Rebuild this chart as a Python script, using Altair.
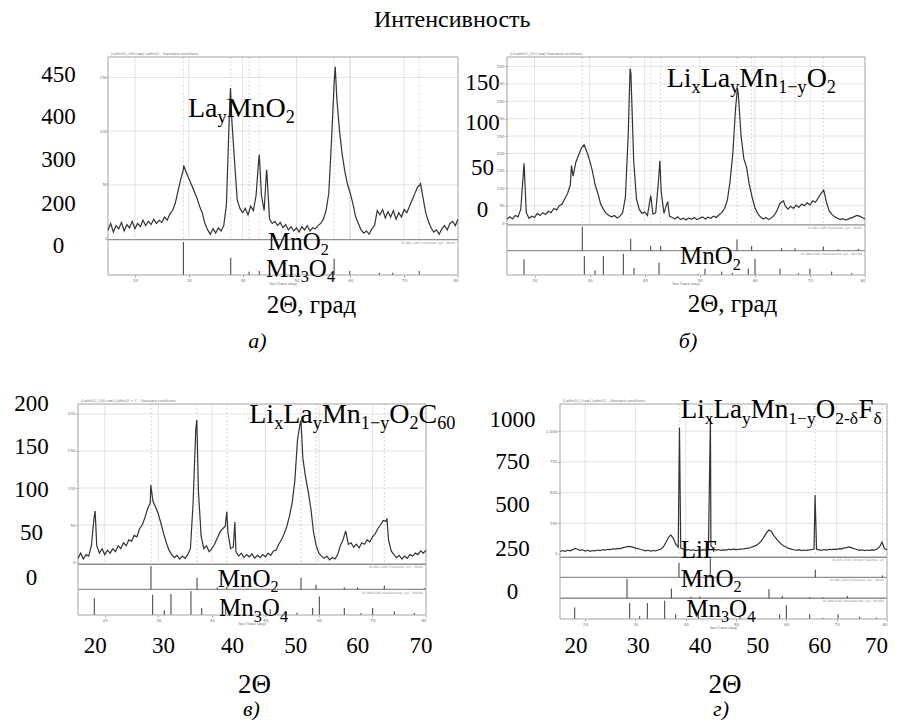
import altair as alt
import pandas as pd

SERIF = "Times New Roman, Liberation Serif, Tinos, DejaVu Serif, serif"
SANS = "DejaVu Sans"

# ---------------- data (intensities, 0.5 deg steps from 15 to 80) -------------
A_INT = [8, 14, 6, 12, 9, 15, 7, 13, 10, 16,
         9, 14, 11, 17, 12, 16, 13, 18, 14, 17,
         15, 20, 17, 23, 26, 33, 44, 55, 64, 62,
         56, 50, 44, 38, 30, 24, 14, 8, 4, 9,
         5, 10, 7, 12, 32, 110, 110, 72, 36, 28,
         24, 28, 22, 30, 26, 40, 74, 40, 26, 62,
         18, 14, 16, 12, 15, 10, 13, 8, 11, 7,
         10, 6, 11, 8, 12, 7, 10, 9, 12, 14,
         18, 26, 42, 90, 145, 130, 100, 78, 62, 50,
         42, 32, 20, 14, 8, 5, 7, 4, 9, 12,
         26, 22, 27, 19, 25, 20, 26, 18, 24, 20,
         27, 24, 30, 36, 42, 48, 50, 38, 24, 16,
         10, 6, 8, 4, 9, 12, 8, 14, 16, 12,
         18]
A_PEAK_T = [29.05, 37.75, 43.1, 44.45, 57.2, 73.0]
A_PEAK_I = [68, 140, 78, 64, 160, 52]

B_INT = [11, 18, 12, 22, 18, 40, 150, 30, 14, 20,
         16, 28, 22, 30, 25, 34, 30, 42, 38, 50,
         55, 70, 85, 110, 135, 175, 195, 215, 225, 205,
         180, 150, 110, 85, 55, 40, 28, 22, 18, 22,
         15, 20, 30, 75, 250, 430, 180, 70, 40, 28,
         32, 22, 70, 26, 30, 120, 90, 28, 55, 20,
         16, 12, 18, 10, 14, 9, 15, 11, 16, 10,
         14, 18, 12, 17, 14, 20, 16, 24, 30, 42,
         65, 120, 200, 330, 370, 250, 185, 160, 110, 75,
         45, 28, 18, 12, 16, 10, 15, 22, 35, 55,
         62, 50, 40, 48, 42, 52, 45, 55, 50, 58,
         52, 64, 60, 72, 85, 95, 60, 35, 25, 18,
         14, 10, 13, 9, 12, 15, 18, 22, 20, 16,
         12]
B_PEAK_T = [18.1, 26.7, 37.35, 41.1, 42.75, 44.2, 56.85, 65.2]
B_PEAK_I = [172, 165, 444, 79, 179, 60, 388, 64]

C_INT = [5, 12, 4, 10, 8, 22, 60, 22, 12, 18,
         10, 16, 12, 18, 14, 22, 18, 26, 22, 30,
         28, 36, 34, 45, 50, 60, 72, 80, 82, 74,
         65, 52, 38, 26, 16, 10, 6, 9, 4, 8,
         5, 10, 18, 80, 180, 95, 35, 18, 22, 14,
         18, 24, 32, 40, 45, 48, 40, 18, 20, 14,
         8, 12, 6, 10, 7, 11, 5, 9, 6, 10,
         7, 12, 9, 15, 16, 24, 30, 38, 48, 62,
         80, 110, 165, 188, 140, 115, 95, 72, 40, 22,
         12, 8, 5, 8, 3, 6, 4, 10, 22, 30,
         42, 24, 26, 20, 24, 19, 26, 24, 30, 27,
         34, 38, 45, 50, 56, 55, 30, 15, 10, 6,
         9, 4, 8, 5, 10, 8, 12, 10, 15, 12,
         16]
C_PEAK_T = [18.2, 28.6, 37.2, 42.8, 44.3, 56.65, 72.7]
C_PEAK_I = [69, 104, 192, 68, 54, 191, 59]

D_INT = [20, 28, 22, 30, 26, 35, 45, 38, 30, 34,
         24, 30, 22, 28, 25, 32, 28, 36, 32, 38,
         35, 42, 40, 46, 44, 52, 55, 62, 60, 56,
         48, 44, 36, 32, 26, 30, 24, 28, 26, 32,
         38, 55, 90, 130, 155, 130, 80, 55, 50, 38,
         32, 36, 30, 34, 28, 32, 30, 35, 32, 38,
         70, 40, 32, 36, 30, 34, 32, 38, 35, 40,
         35, 38, 40, 42, 45, 48, 55, 62, 70, 85,
         105, 135, 170, 195, 185, 150, 125, 100, 80, 65,
         55, 45, 40, 34, 30, 35, 28, 32, 30, 34,
         36, 40, 38, 34, 30, 36, 32, 38, 35, 40,
         38, 44, 42, 50, 52, 58, 50, 42, 36, 30,
         34, 28, 32, 30, 34, 32, 40, 55, 95, 45,
         35]
D_PEAK_T = [38.75, 44.9, 65.7]
D_PEAK_I = [1030, 1110, 480]

# reference stick patterns (position, relative height)
MNO2_A_T = [29.0, 37.8, 41.2, 43.1, 57.0, 59.9, 65.4, 67.9, 72.8]
MNO2_A_H = [1.0, 0.52, 0.1, 0.12, 0.5, 0.12, 0.06, 0.07, 0.12]
MNO2_B_T = [28.67, 37.46, 41.09, 42.9, 56.76, 59.42, 64.87, 67.29, 72.43, 75.15, 78.78]
MNO2_B_H = [1.0, 0.49, 0.2, 0.2, 0.47, 0.2, 0.1, 0.1, 0.17, 0.05, 0.07]
MN3O4_B_T = [18.09, 29.04, 30.98, 32.49, 36.12, 38.06, 42.6, 49.7, 50.95, 53.98, 55.9, 58.8, 60.03, 64.57, 67.9, 70.0, 73.95, 77.58]
MN3O4_B_H = [0.69, 0.83, 0.2, 0.83, 0.94, 0.3, 0.55, 0.05, 0.28, 0.15, 0.1, 0.28, 0.72, 0.28, 0.08, 0.28, 0.15, 0.08]
MNO2_C_T = [28.63, 37.23, 41.0, 42.8, 56.65, 59.45, 64.74, 67.24, 72.21, 79.68]
MNO2_C_H = [1.0, 0.5, 0.08, 0.1, 0.5, 0.2, 0.08, 0.08, 0.17, 0.05]
MN3O4_C_T = [18.05, 28.95, 31.12, 32.37, 36.1, 38.1, 42.6, 50.9, 53.9, 55.9, 58.83, 60.07, 64.74, 67.86, 70.04, 74.08, 77.82]
MN3O4_C_H = [0.7, 0.85, 0.2, 0.88, 1.0, 0.3, 0.5, 0.25, 0.12, 0.1, 0.3, 0.78, 0.3, 0.08, 0.3, 0.15, 0.08]
LIF_D_T = [38.65, 44.88, 65.75, 79.07]
LIF_D_H = [0.78, 1.0, 0.4, 0.1]
MNO2_D_T = [28.32, 37.13, 41.0, 42.8, 56.54, 59.19, 64.63, 67.27, 72.11]
MNO2_D_H = [1.0, 0.5, 0.08, 0.1, 0.47, 0.12, 0.06, 0.05, 0.12]
MN3O4_D_T = [17.92, 28.85, 30.84, 32.36, 35.81, 38.0, 42.5, 50.8, 53.8, 58.67, 59.99, 64.63, 67.27, 70.26, 74.57, 77.88]
MN3O4_D_H = [0.6, 0.83, 0.15, 0.83, 0.95, 0.25, 0.45, 0.2, 0.1, 0.25, 0.72, 0.25, 0.06, 0.25, 0.12, 0.08]

TINY_X = [20, 30, 40, 50, 60, 70, 80]
GRID_X = [20, 30, 40, 50, 60, 70]

# formulas as (text, is_subscript) pieces
F_A = [("La", 0), ("y", 1), ("MnO", 0), ("2", 1)]
F_B = [("Li", 0), ("x", 1), ("La", 0), ("y", 1), ("Mn", 0), ("1−y", 1), ("O", 0), ("2", 1)]
F_C = F_B + [("C", 0), ("60", 1)]
F_D = [("Li", 0), ("x", 1), ("La", 0), ("y", 1), ("Mn", 0), ("1−y", 1), ("O", 0), ("2-δ", 1), ("F", 0), ("δ", 1)]
P_MNO2 = [("MnO", 0), ("2", 1)]
P_MN3O4 = [("Mn", 0), ("3", 1), ("O", 0), ("4", 1)]
P_LIF = [("LiF", 0)]

W_EM = {"L": 0.611, "i": 0.278, "x": 0.5, "a": 0.444, "y": 0.5, "M": 0.889, "n": 0.5,
        "O": 0.722, "C": 0.667, "F": 0.556, "−": 0.564, "-": 0.333, "δ": 0.5}

# extra = empty room kept left of the frame inside the view (so panel a sits 30px right of panel c)
PANELS = {
    "a": dict(W=350, H=218, extra=30, ydom=(-34, 169), gridy=[50, 100, 150], tinyy=[0, 50, 100, 150],
              bands=[(-34, -1, MNO2_A_T, MNO2_A_H, "01-081-2261 Pyrolusite, syn - MnO2")],
              pattern=(A_INT, A_PEAK_T, A_PEAK_I),
              header="[LaMnO2_003.raw] LaMnO2 - Standard conditions",
              formula=(F_A, 29.86, 113.1, 28),
              phases=[(P_MNO2, 44.71, -10.7), (P_MN3O4, 44.34, -35.8)],
              ylab=([151, 112, 72, 31, -8], ["450", "400", "300", "200", "0"], 50),
              xlab=None,
              xtitle=("2Θ, град", 203, 37, 25), letter=("а)", 149, 72), hack=-77),
    "b": dict(W=358, H=218, extra=0, ydom=(-149, 477), gridy=[50, 100, 150, 200, 250, 300, 350, 400, 450],
              tinyy=[0, 50, 100, 150, 200, 250, 300, 350, 400, 450],
              bands=[(-79, -5, MNO2_B_T, MNO2_B_H, "01-081-2261 Pyrolusite, syn - MnO2"),
                     (-149, -79, MN3O4_B_T, MN3O4_B_H, "01-080-0382 Hausmannite, syn - Mn3O4")],
              pattern=(B_INT, B_PEAK_T, B_PEAK_I),
              header="[LiLaMnO2_012.raw] Standard conditions",
              formula=(F_B, 43.99, 390.8, 28),
              phases=[(P_MNO2, 46.41, -117.5)],
              ylab=([399, 282, 155, 32], ["150", "100", "50", "0"], 25),
              xlab=None,
              xtitle=("2Θ, град", 225, 36, 25), letter=("б)", 180.5, 72), hack=-45.5),
    "c": dict(W=348, H=211, extra=0, ydom=(-71.6, 213.5), gridy=[50, 100, 150, 200], tinyy=[0, 50, 100, 150, 200],
              bands=[(-37, -3, MNO2_C_T, MNO2_C_H, "01-081-2261 Pyrolusite, syn - MnO2"),
                     (-71.6, -37, MN3O4_C_T, MN3O4_C_H, "01-080-0382 Hausmannite, syn - Mn3O4")],
              pattern=(C_INT, C_PEAK_T, C_PEAK_I),
              header="[LaMnO2_C60.raw] LaMnO2 + C - Standard conditions",
              formula=(F_C, 46.99, 187.4, 28),
              phases=[(P_MNO2, 41.09, -33.4), (P_MN3O4, 41.34, -73)],
              ylab=([212, 154, 94.6, 36.5, -23], ["200", "150", "100", "50", "0"], 47),
              xlab=([18.14, 30.88, 43.76, 55.59, 67.17, 78.97], ["20", "30", "40", "50", "60", "70"], 30),
              xtitle=("2Θ", 176, 77, 27), letter=("в)", 173, 100), hack=-77),
    "d": dict(W=327, H=215, extra=0, ydom=(-530, 1222), gridy=[250, 500, 750, 1000], tinyy=[0, 250, 500, 750, 1000],
              bands=[(-190, -27, LIF_D_T, LIF_D_H, "01-071-1537 Lithium Fluoride - LiF"),
                     (-361, -190, MNO2_D_T, MNO2_D_H, "01-081-2261 Pyrolusite, syn - MnO2"),
                     (-530, -361, MN3O4_D_T, MN3O4_D_H, "01-080-0382 Hausmannite, syn - Mn3O4")],
              pattern=(D_INT, D_PEAK_T, D_PEAK_I),
              header="[LaMnO2_F.raw] LaMnO2 - Standard conditions",
              formula=(F_D, 38.99, 1106, 27),
              phases=[(P_LIF, 38.99, -33), (P_MNO2, 38.99, -266), (P_MN3O4, 40.1, -511)],
              ylab=([1078, 739, 385, 27, -320], ["1000", "750", "500", "250", "0"], 48),
              xlab=([18.08, 30.44, 42.77, 54.21, 66.54, 77.82], ["20", "30", "40", "50", "60", "70"], 26),
              xtitle=("2Θ", 164.5, 73, 27), letter=("г)", 160.5, 96), hack=-103),
}


def label_expr(pos, txt):
    expr = "''"
    for p, t in reversed(list(zip(pos, txt))):
        expr = f"abs(datum.value - ({p})) < 0.001 ? '{t}' : ({expr})"
    return expr


def pattern_df(vals, ext_t, ext_i):
    pts = [(15 + 0.5 * k, v) for k, v in enumerate(vals)] + list(zip(ext_t, ext_i))
    pts.sort()
    return pd.DataFrame(pts, columns=["t", "I"])


def pieces(segs, x0, y0, F, ppd, ppu, rows):
    off = 0.0
    for txt, sub in segs:
        fs = F * 0.65 if sub else F
        y = y0 - (0.22 * F / ppu if sub else 0)
        rows.append(dict(t=x0 + off / ppd, I=y, txt=txt, fs=fs))
        off += sum(W_EM.get(ch, 0.5) for ch in txt) * fs


def panel(p):
    W, H, ex = p["W"], p["H"], p["extra"]
    y0, y1 = p["ydom"]
    ppd = W / 65.0
    ppu = H / (y1 - y0)
    xs = alt.Scale(domain=[15 - ex / ppd, 80], nice=False, zero=False)
    ys = alt.Scale(domain=[y0, y1], nice=False, zero=False)

    def X(f, axis=None):
        return alt.X(f, type="quantitative", scale=xs, axis=axis)

    def Y(f, axis=None):
        return alt.Y(f, type="quantitative", scale=ys, axis=axis)

    xt, xtx, xty, xtfs = p["xtitle"]
    if p["xlab"] is None:
        big_x = alt.Axis(orient="bottom", labels=False, ticks=False, domain=False, grid=False,
                         title=xt, titleFont=SERIF, titleFontSize=xtfs, titleFontWeight="normal",
                         titleColor="black", titleX=xtx + ex, titleY=xty, titleAlign="center",
                         titleBaseline="alphabetic")
    else:
        pos, txt, pad = p["xlab"]
        big_x = alt.Axis(orient="bottom", values=pos, labelExpr=label_expr(pos, txt), ticks=False,
                         tickSize=0, domain=False, grid=False, labelFont=SERIF, labelFontSize=23,
                         labelColor="black", labelPadding=pad, labelBaseline="middle",
                         labelOverlap=False, labelFlush=False,
                         title=xt, titleFont=SERIF, titleFontSize=xtfs, titleFontWeight="normal",
                         titleColor="black", titleX=xtx + ex, titleY=xty, titleAlign="center",
                         titleBaseline="alphabetic")
    ypos, ytxt, ypad = p["ylab"]
    big_y = alt.Axis(orient="left", values=ypos, labelExpr=label_expr(ypos, ytxt), ticks=False,
                     tickSize=0, domain=False, grid=False, labelFont=SERIF, labelFontSize=23,
                     labelColor="black", labelPadding=ypad - ex, labelAlign="center", labelOffset=-2,
                     labelBaseline="middle", labelOverlap=False, labelFlush=False, title=None)
    lt, ltx, lty = p["letter"]
    tiny_x = alt.Axis(orient="bottom", values=TINY_X, labelFont=SANS, labelFontSize=4,
                      labelColor="#777", tickSize=2, tickColor="#aaa", domain=False, grid=False,
                      labelPadding=1, labelFlush=True, labelOverlap=False,
                      title=lt, titleFont=SERIF, titleFontStyle="italic", titleFontSize=22,
                      titleFontWeight="normal", titleColor="black", titleX=ltx + ex, titleY=lty,
                      titleAlign="center", titleBaseline="alphabetic")
    tiny_y = alt.Axis(orient="left", values=p["tinyy"], labelFont=SANS, labelFontSize=4,
                      labelColor="#777", ticks=(ex == 0), tickSize=2, tickColor="#aaa",
                      domain=False, grid=False, labelPadding=1 - ex, labelOverlap=False,
                      title=".", titleColor="white", titleFontSize=2, titleAngle=0,
                      titleX=p["hack"], titleY=0, titleAlign="left", titleBaseline="top")

    layers = []
    vg = pd.DataFrame({"t": GRID_X, "ya": 0.0, "yb": float(y1)})
    layers.append(alt.Chart(vg).mark_rule(color="#dcdcdc", strokeWidth=0.8).encode(
        x=X("t", big_x), y=Y("ya", big_y), y2="yb"))
    hg = pd.DataFrame({"g": p["gridy"], "xa": 15.0, "xb": 80.0})
    layers.append(alt.Chart(hg).mark_rule(color="#dcdcdc", strokeWidth=0.8).encode(
        y=Y("g"), x=X("xa"), x2="xb"))
    lo, hi, st, sh, _ = p["bands"][0]
    dots = [t for t, h in zip(st, sh) if h >= 0.1]
    dg = pd.DataFrame({"t": dots, "ya": 0.0, "yb": float(y1)})
    layers.append(alt.Chart(dg).mark_rule(color="#c4c4c4", strokeWidth=0.7, strokeDash=[2, 2]).encode(
        x=X("t"), y=Y("ya"), y2="yb"))
    seps = [b[1] for b in p["bands"]]
    sg = pd.DataFrame({"s": seps, "xa": 15.0, "xb": 80.0})
    layers.append(alt.Chart(sg).mark_rule(color="#8f8f8f", strokeWidth=1.3).encode(
        y=Y("s"), x=X("xa"), x2="xb"))
    srows = []
    for lo, hi, st, sh, _ in p["bands"]:
        for t, h in zip(st, sh):
            srows.append(dict(t=t, lo=lo, hi=lo + h * (hi - lo) * 0.93))
    layers.append(alt.Chart(pd.DataFrame(srows)).mark_rule(color="#3a3a3a", strokeWidth=1).encode(
        x=X("t"), y=Y("lo"), y2="hi"))
    fr = pd.DataFrame({"xa": [15.0], "xb": [80.0], "ya": [float(y0)], "yb": [float(y1)]})
    layers.append(alt.Chart(fr).mark_rect(fillOpacity=0, stroke="#a3a3a3", strokeWidth=1).encode(
        x=X("xa"), x2="xb", y=Y("ya"), y2="yb"))
    vals, et, ei = p["pattern"]
    layers.append(alt.Chart(pattern_df(vals, et, ei)).mark_line(color="#333333", strokeWidth=1.2).encode(
        x=X("t", tiny_x), y=Y("I", tiny_y)))
    rows = []
    fsegs, fx, fy, fF = p["formula"]
    pieces(fsegs, fx, fy, fF, ppd, ppu, rows)
    for segs, px_, py_ in p["phases"]:
        pieces(segs, px_, py_, 25, ppd, ppu, rows)
    layers.append(alt.Chart(pd.DataFrame(rows)).mark_text(
        font=SERIF, align="left", baseline="alphabetic", color="black").encode(
        x=X("t"), y=Y("I"), text="txt:N", size=alt.Size("fs:Q", scale=None)))
    tt = [dict(t=15.0, I=float(y1), txt=p["header"])]
    layers.append(alt.Chart(pd.DataFrame(tt)).mark_text(
        font=SANS, fontSize=3.5, color="#777", align="left", baseline="bottom", dx=3, dy=-1).encode(
        x=X("t"), y=Y("I"), text="txt:N"))
    bt = [dict(t=80.0, I=float(b[1]), txt=b[4]) for b in p["bands"]]
    layers.append(alt.Chart(pd.DataFrame(bt)).mark_text(
        font=SANS, fontSize=3, color="#888", align="right", baseline="top", dx=-3, dy=2).encode(
        x=X("t"), y=Y("I"), text="txt:N"))
    xt2 = [dict(t=47.5, I=float(y0), txt="Two-Theta (deg)")]
    layers.append(alt.Chart(pd.DataFrame(xt2)).mark_text(
        font=SANS, fontSize=3.5, color="#777", align="center", baseline="top", dy=7).encode(
        x=X("t"), y=Y("I"), text="txt:N"))

    return alt.layer(*layers).resolve_axis(x="independent", y="independent").properties(
        width=W + ex, height=H)


row1 = alt.hconcat(panel(PANELS["a"]), panel(PANELS["b"]), spacing=0)
row2 = alt.hconcat(panel(PANELS["c"]), panel(PANELS["d"]), spacing=0)
chart = alt.vconcat(
    row1, row2, spacing=39,
    title=alt.TitleParams("Интенсивность", font=SERIF, fontSize=24, fontWeight="normal",
                          color="black", anchor="middle", dx=7, offset=20),
).properties(
    padding={"left": 0, "top": 7, "right": 0, "bottom": 0}
).configure_view(stroke="transparent")

chart.save("out.html", embed_options={"renderer": "svg", "actions": False})
